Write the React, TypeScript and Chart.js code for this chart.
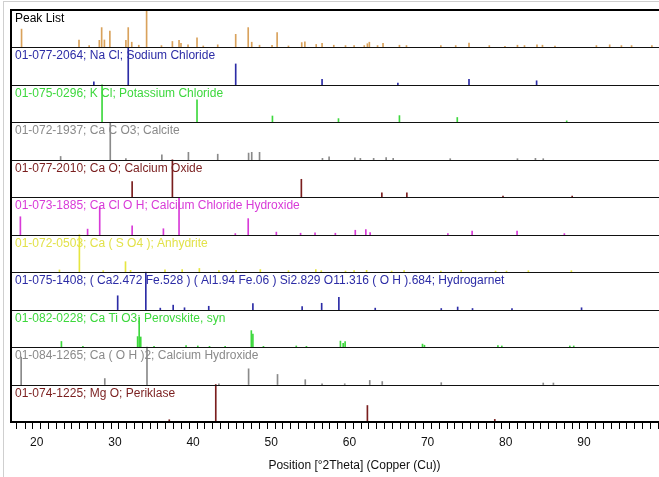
import React, { useEffect, useRef } from 'react';
import { Chart, registerables } from 'chart.js';

Chart.register(...registerables);

// ---- Data (2θ positions in degrees, relative intensities 0-100) ----
const panelLabels = [
  'Peak List',
  '01-077-2064; Na Cl; Sodium Chloride',
  '01-075-0296; K Cl; Potassium Chloride',
  '01-072-1937; Ca C O3; Calcite',
  '01-077-2010; Ca O; Calcium Oxide',
  '01-073-1885; Ca Cl O H; Calcium Chloride Hydroxide',
  '01-072-0503; Ca ( S O4 ); Anhydrite',
  '01-075-1408; ( Ca2.472 Fe.528 ) ( Al1.94 Fe.06 ) Si2.829 O11.316 ( O H ).684; Hydrogarnet',
  '01-082-0228; Ca Ti O3; Perovskite, syn',
  '01-084-1265; Ca ( O H )2; Calcium Hydroxide',
  '01-074-1225; Mg O; Periklase',
];

const peakListPos = [18.05, 25.4, 26.7, 28.0, 28.3, 28.65, 29.35, 31.4, 31.7, 32.15, 33.05, 34.05, 35.95, 37.35, 38.2, 38.45, 39.35, 40.5, 41.3, 43.15, 45.45, 47.05, 47.5, 48.5, 50.1, 50.75, 52.2, 53.9, 54.3, 55.75, 56.5, 58.0, 59.5, 60.6, 61.9, 62.3, 62.55, 63.6, 64.3, 66.4, 67.3, 71.7, 73.6, 75.3, 77.9, 79.9, 81.5, 82.4, 84.0, 84.7, 86.3, 91.6, 93.3, 94.8, 96.1, 98.7];
const peakListInt = [49, 20, 5, 19, 53, 20, 44, 19, 53, 14, 6, 100, 5, 16, 19, 11, 7, 26, 4, 7, 35, 53, 14, 6, 6, 40, 4, 13, 15, 8, 11, 6, 5, 5, 5, 10, 14, 5, 11, 6, 5, 5, 5, 12, 5, 3, 6, 5, 7, 6, 4, 5, 7, 5, 5, 5];

const naclPos = [27.3, 31.7, 45.45, 56.5, 66.2, 75.3, 83.95];
const naclInt = [8, 100, 56, 15, 5, 15, 11];

const kclPos = [28.35, 40.5, 50.15, 58.6, 66.4, 73.8, 87.8];
const kclInt = [100, 60, 17, 10, 18, 13, 4];

const calcitePos = [23.05, 29.4, 31.4, 36.0, 39.4, 43.15, 47.1, 47.5, 48.5, 56.55, 57.4, 60.7, 61.4, 63.1, 64.7, 65.6, 72.9, 81.5, 83.8, 84.8];
const calciteInt = [9, 100, 3, 13, 20, 15, 18, 20, 20, 4, 8, 5, 4, 4, 6, 4, 3, 3, 4, 3];

const caoPos = [32.2, 37.35, 53.85, 64.15, 67.35, 79.65, 88.5];
const caoInt = [42, 100, 48, 12, 12, 3, 3];

const caclohPos = [17.9, 26.5, 28.05, 32.2, 36.2, 38.2, 45.4, 47.05, 50.65, 53.75, 55.6, 58.2, 60.75, 62.1, 62.65, 72.6, 75.7, 81.45, 87.5];
const caclohInt = [48, 15, 75, 24, 16, 100, 3, 43, 7, 4, 5, 4, 12, 14, 6, 3, 10, 10, 3];

const anhydritePos = [22.9, 25.45, 28.5, 31.35, 32.0, 36.4, 38.6, 40.8, 43.3, 45.5, 48.6, 52.2, 55.7, 56.4, 59.5, 60.6, 62.2, 65.4, 67.0, 71.7, 74.3, 78.7, 80.1, 82.9, 88.4];
const anhydriteInt = [6, 100, 4, 28, 5, 6, 7, 10, 4, 5, 7, 4, 7, 4, 3, 4, 5, 3, 4, 3, 5, 3, 3, 4, 4];

const hydrogarnetPos = [30.35, 33.95, 35.8, 37.45, 38.9, 42.0, 47.65, 53.95, 56.45, 58.65, 63.3, 71.75, 73.85, 75.75, 80.8, 89.7];
const hydrogarnetInt = [37, 100, 4, 12, 5, 9, 16, 8, 17, 33, 4, 3, 7, 3, 3, 5];

const perovskitePos = [23.15, 25.9, 32.9, 33.1, 33.3, 35.0, 39.1, 40.6, 42.1, 44.1, 47.45, 47.65, 49.0, 53.2, 54.5, 58.85, 59.2, 59.45, 69.35, 69.6, 79.0, 79.5, 88.2, 88.7];
const perovskiteInt = [15, 2, 28, 80, 27, 2, 4, 3, 2, 2, 44, 35, 2, 3, 2, 16, 10, 15, 8, 5, 4, 3, 3, 3];

const portlanditePos = [18.0, 28.7, 34.1, 43.3, 47.1, 50.8, 54.35, 56.5, 59.4, 62.6, 64.2, 71.75, 84.8, 86.1];
const portlanditeInt = [73, 16, 100, 2, 42, 27, 13, 2, 2, 11, 8, 5, 4, 4];

const mgoPos = [36.95, 42.9, 62.3, 78.6];
const mgoInt = [6, 100, 44, 7];

const panelPositions = [peakListPos, naclPos, kclPos, calcitePos, caoPos, caclohPos, anhydritePos, hydrogarnetPos, perovskitePos, portlanditePos, mgoPos];
const panelIntensities = [peakListInt, naclInt, kclInt, calciteInt, caoInt, caclohInt, anhydriteInt, hydrogarnetInt, perovskiteInt, portlanditeInt, mgoInt];

const xTitle = 'Position [°2Theta] (Copper (Cu))';
const xMin = 16.7;
const xMax = 104.6;
const xLabelMax = 90;

// ---- Styles ----
const lineColors = ['#d9a25c', '#2c2ca6', '#3dd83d', '#8a8a8a', '#7a1e1e', '#d83ad8', '#e6e640', '#2c2ca6', '#3dd83d', '#8a8a8a', '#7a1e1e'];
const labelColors = ['#000000', '#2c2ca6', '#3dd83d', '#8a8a8a', '#7a1e1e', '#d83ad8', '#e2e24a', '#2c2ca6', '#3dd83d', '#8a8a8a', '#7a1e1e'];
const FONT = '"Liberation Sans", Arial, sans-serif';

const N = panelLabels.length;

const panelPlugin = {
  id: 'panelPlugin',
  beforeDatasetsDraw(chart: any) {
    const { ctx, chartArea: a, scales } = chart;
    const y = scales.y;
    ctx.save();
    ctx.font = `12px ${FONT}`;
    ctx.textBaseline = 'alphabetic';
    ctx.textAlign = 'left';
    for (let i = 0; i < N; i++) {
      const top = y.getPixelForValue(N - i);
      ctx.fillStyle = labelColors[i];
      ctx.fillText(panelLabels[i], a.left + 4, top + 12);
    }
    ctx.restore();
  },
  afterDatasetsDraw(chart: any) {
    const { ctx, chartArea: a, scales } = chart;
    const y = scales.y;
    ctx.save();
    ctx.fillStyle = '#111111';
    for (let i = 1; i < N; i++) {
      const py = Math.round(y.getPixelForValue(i));
      ctx.fillRect(a.left, py, a.right - a.left, 1);
    }
    ctx.fillStyle = '#000000';
    ctx.fillRect(a.left - 1, Math.round(a.top) - 1, a.right - a.left + 1, 2);
    ctx.fillRect(a.left - 1, Math.round(a.bottom) - 1, a.right - a.left + 1, 2);
    ctx.fillRect(a.left - 1, Math.round(a.top) - 1, 2, a.bottom - a.top + 2);
    ctx.restore();
  },
};

export default function App() {
  const ref = useRef<HTMLCanvasElement | null>(null);

  useEffect(() => {
    if (!ref.current) return;
    const datasets = panelPositions.map((pos, i) => {
      const base = N - 1 - i;
      return {
        label: panelLabels[i],
        data: pos.map((p, k) => ({ x: p, y: [base, base + panelIntensities[i][k] / 100] })),
        backgroundColor: lineColors[i],
        borderWidth: 0,
        barThickness: 1,
        grouped: false,
      };
    });

    const chart = new Chart(ref.current, {
      type: 'bar',
      data: { datasets } as any,
      plugins: [panelPlugin as any],
      options: {
        animation: false,
        responsive: false,
        devicePixelRatio: 1,
        layout: { padding: { left: 11, top: 10, right: 0, bottom: 0 } },
        plugins: { legend: { display: false }, tooltip: { enabled: false } },
        scales: {
          x: {
            type: 'linear',
            min: xMin,
            max: xMax,
            offset: false,
            border: { display: false },
            grid: { drawOnChartArea: false, drawTicks: true, tickLength: 7, color: '#000000', lineWidth: 1 },
            ticks: {
              stepSize: 1,
              autoSkip: false,
              maxRotation: 0,
              maxTicksLimit: 300,
              padding: 6,
              color: '#111111',
              font: { family: FONT, size: 12 },
              callback: (v: any) => (Number(v) % 10 === 0 && Number(v) <= xLabelMax ? String(v) : ''),
            },
            title: {
              display: true,
              text: xTitle,
              color: '#111111',
              font: { family: FONT, size: 12 },
              padding: { top: 4, bottom: 4 },
            },
            afterFit: (scale: any) => {
              scale.height = 55;
            },
          },
          y: {
            type: 'linear',
            min: 0,
            max: N,
            display: false,
          },
        },
      } as any,
    });
    return () => chart.destroy();
  }, []);

  return (
    <div style={{ position: 'fixed', left: 0, top: 0, width: 659, height: 477, overflow: 'hidden', background: '#ffffff' }}>
      <div style={{ position: 'absolute', left: 3, top: 1, width: 700, height: 500, borderLeft: '1px solid #cfcfcf', borderTop: '1px solid #cfcfcf' }} />
      <canvas ref={ref} width={704} height={477} style={{ position: 'absolute', left: 0, top: 0, width: 704, height: 477 }} />
    </div>
  );
}
